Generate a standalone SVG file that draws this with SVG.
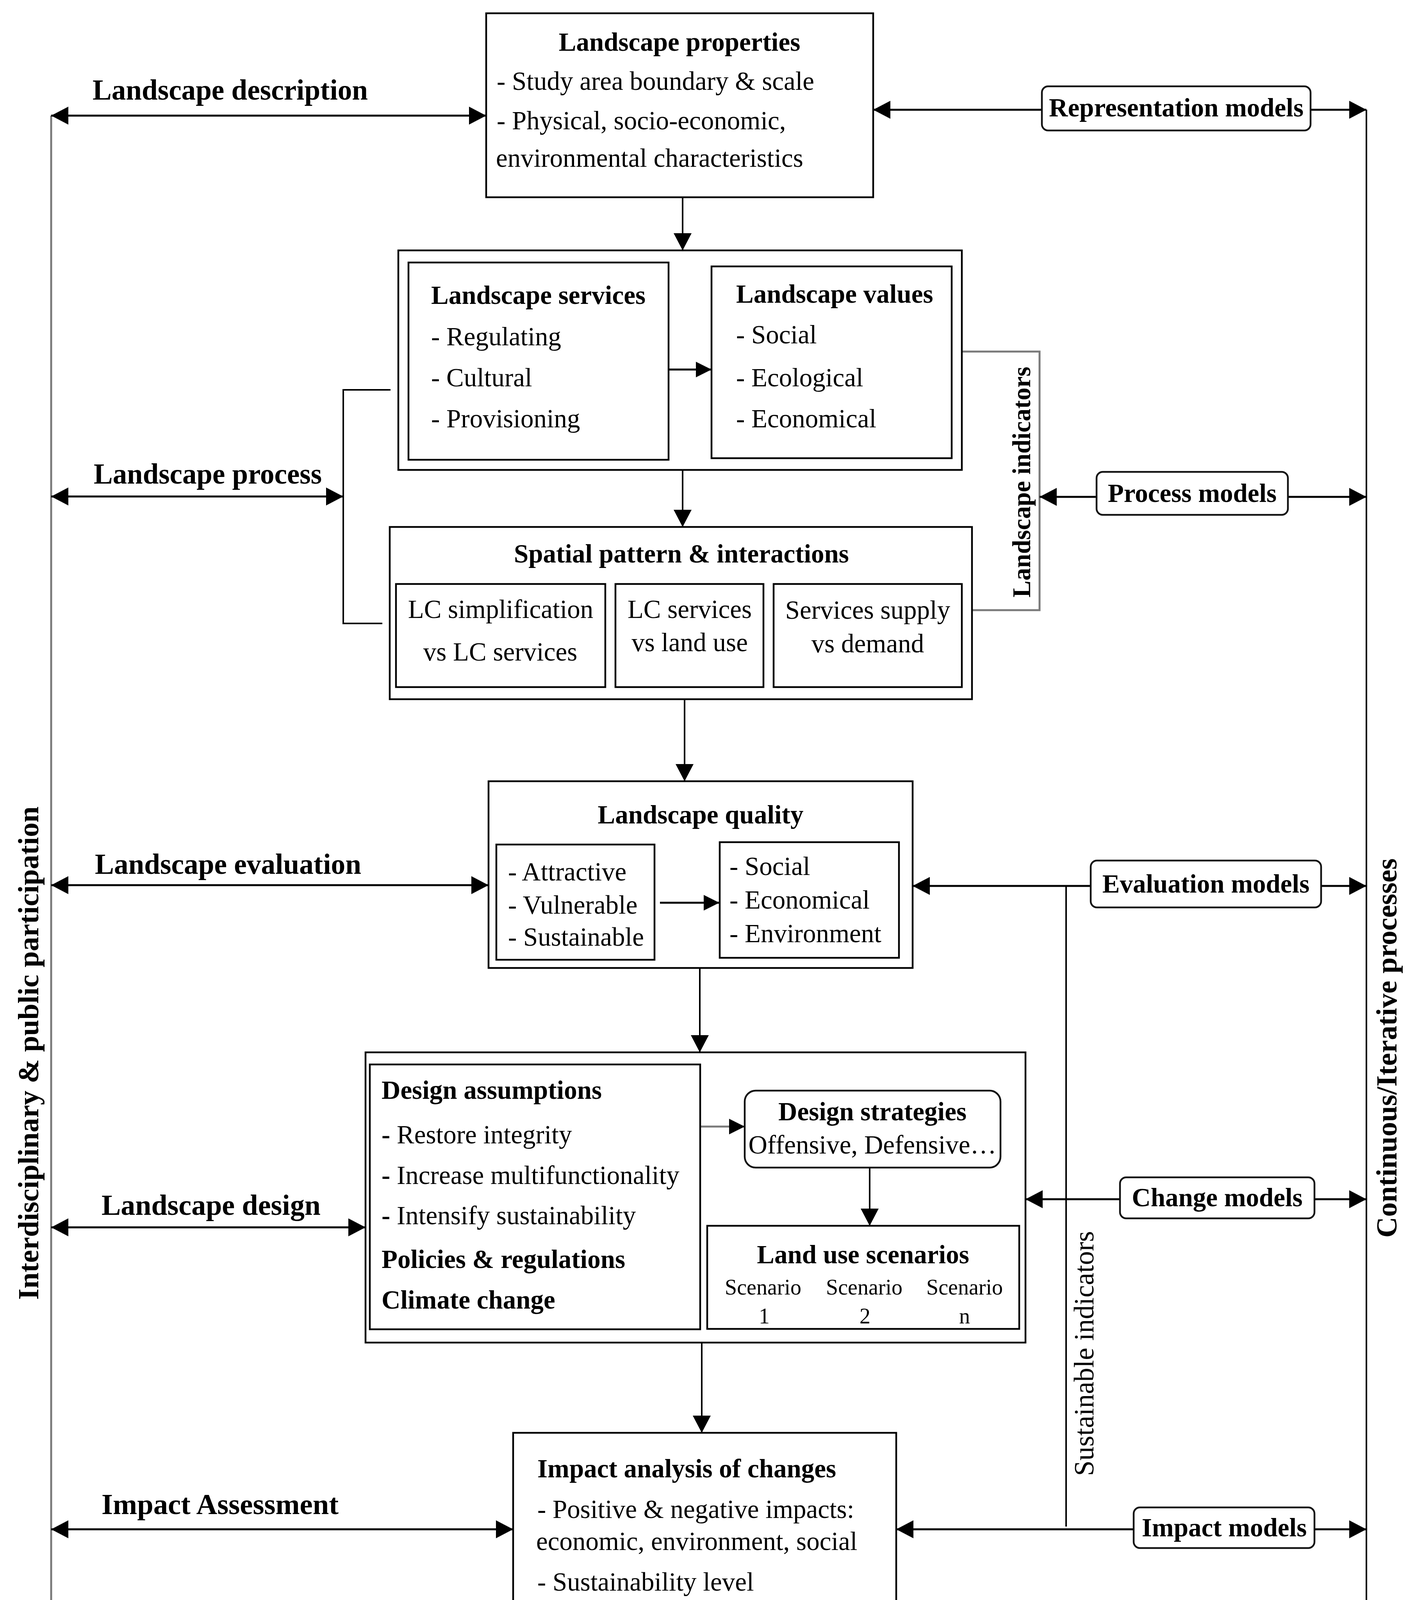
<svg xmlns="http://www.w3.org/2000/svg" width="3626" height="4876" viewBox="0 0 3626 4876">
<style>
.box{fill:none;stroke:#000;stroke-width:4.5}
.rb{fill:#fff;stroke:#111;stroke-width:4.5}
.t{font-family:"Liberation Serif","Times New Roman",serif;font-size:67px;fill:#000}
.b{font-weight:bold}
.m{text-anchor:middle}
.lbl{font-family:"Liberation Serif","Times New Roman",serif;font-weight:bold;font-size:73px;fill:#000}
.ln{fill:none;stroke:#000;stroke-width:5}
.lv{fill:none;stroke:#000;stroke-width:4}
.gl{fill:none;stroke:#7a7a7a;stroke-width:5}
.sm{font-size:56px}
</style>
<defs>
<marker id="ah" viewBox="0 0 44 46" refX="44" refY="23" markerWidth="44" markerHeight="46" markerUnits="userSpaceOnUse" orient="auto-start-reverse"><path d="M0,0 L44,23 L0,46 Z" fill="#000"/></marker>
<marker id="as" viewBox="0 0 40 40" refX="40" refY="20" markerWidth="40" markerHeight="40" markerUnits="userSpaceOnUse" orient="auto-start-reverse"><path d="M0,0 L40,20 L0,40 Z" fill="#000"/></marker>
</defs>
<rect width="3626" height="4876" fill="#fff"/>

<g id="connectors">
<path class="gl" d="M131,296 V4630"/>
<path class="lv" d="M3499,281 V4626"/>
<path class="ln" d="M131,296 H1245" marker-start="url(#ah)" marker-end="url(#ah)"/>
<path class="ln" d="M131,1271 H879" marker-start="url(#ah)" marker-end="url(#ah)"/>
<path class="lv" d="M1000,998 H879 V1596 H979"/>
<path class="ln" d="M131,2266 H1251" marker-start="url(#ah)" marker-end="url(#ah)"/>
<path class="ln" d="M131,3142 H936" marker-start="url(#ah)" marker-end="url(#ah)"/>
<path class="ln" d="M131,3915 H1314" marker-start="url(#ah)" marker-end="url(#ah)"/>
<path class="ln" d="M131,4630 H1482" marker-start="url(#ah)" marker-end="url(#ah)"/>
<path class="ln" d="M2668,281 H2236" marker-end="url(#ah)"/>
<path class="ln" d="M3356,281 H3499" marker-end="url(#ah)"/>
<path class="gl" d="M2462,900 H2662 V1562 H2489"/>
<path class="ln" d="M2808,1272 H2662" marker-end="url(#ah)"/>
<path class="ln" d="M3298,1272 H3499" marker-end="url(#ah)"/>
<path class="ln" d="M2793,2268 H2337" marker-end="url(#ah)"/>
<path class="ln" d="M3383,2268 H3499" marker-end="url(#ah)"/>
<path class="lv" d="M2730,2268 V3908"/>
<path class="ln" d="M2868,3070 H2626" marker-end="url(#ah)"/>
<path class="ln" d="M3366,3070 H3499" marker-end="url(#ah)"/>
<path class="ln" d="M2903,3915 H2295" marker-end="url(#ah)"/>
<path class="ln" d="M3366,3915 H3499" marker-end="url(#ah)"/>
<path class="ln" d="M2840,4626 H2157" marker-end="url(#ah)"/>
<path class="ln" d="M3359,4626 H3499" marker-end="url(#ah)"/>
<path class="lv" d="M1748,505 V641" marker-end="url(#ah)"/>
<path class="lv" d="M1748,1203 V1349" marker-end="url(#ah)"/>
<path class="lv" d="M1753,1790 V2000" marker-end="url(#ah)"/>
<path class="lv" d="M1792,2479 V2694" marker-end="url(#ah)"/>
<path class="lv" d="M1797,3437 V3668" marker-end="url(#ah)"/>
<path class="lv" d="M1802,4161 V4387" marker-end="url(#ah)"/>
<path class="lv" d="M2227,2989 V3138" marker-end="url(#ah)"/>
<path class="ln" d="M1712,946 H1822" marker-end="url(#as)"/>
<path class="ln" d="M1690,2311 H1842" marker-end="url(#as)"/>
<path class="gl" d="M1793,2884 H1907" marker-end="url(#as)"/>
</g>

<g id="side-labels">
<text class="lbl" x="237" y="255" textLength="705" lengthAdjust="spacingAndGlyphs">Landscape description</text>
<text class="lbl" x="240" y="1238" textLength="584" lengthAdjust="spacingAndGlyphs">Landscape process</text>
<text class="lbl" x="243" y="2237" textLength="682" lengthAdjust="spacingAndGlyphs">Landscape evaluation</text>
<text class="lbl" x="260" y="3110" textLength="561" lengthAdjust="spacingAndGlyphs">Landscape design</text>
<text class="lbl" x="260" y="3876" textLength="607" lengthAdjust="spacingAndGlyphs">Impact Assessment</text>
<text class="lbl" x="272" y="4600" textLength="549" lengthAdjust="spacingAndGlyphs">Decision Making</text>
<text class="lbl m" transform="translate(98,2696) rotate(-90)" font-size="74" textLength="1263" lengthAdjust="spacingAndGlyphs">Interdisciplinary &amp; public participation</text>
<text class="lbl m" transform="translate(3576,2683) rotate(-90)" font-size="74" textLength="971" lengthAdjust="spacingAndGlyphs">Continuous/Iterative processes</text>
<text class="lbl m" transform="translate(2638,1234) rotate(-90)" style="font-size:65px" textLength="591" lengthAdjust="spacingAndGlyphs">Landscape indicators</text>
<text class="t m" transform="translate(2800,3465) rotate(-90)" style="font-size:71px" textLength="627" lengthAdjust="spacingAndGlyphs">Sustainable indicators</text>
</g>

<g id="landscape-properties">
<rect class="box" x="1245" y="34" width="991" height="471"/>
<text class="t b m" x="1740" y="130">Landscape properties</text>
<text class="t" x="1272" y="230">- Study area boundary &amp; scale</text>
<text class="t" x="1272" y="331">- Physical, socio-economic,</text>
<text class="t" x="1270" y="427">environmental characteristics</text>
</g>

<g id="services-values">
<rect class="box" x="1020" y="641" width="1443" height="562"/>
</g>
<g id="landscape-services">
<rect class="box" x="1046" y="672" width="666" height="505"/>
<text class="t b" x="1104" y="778">Landscape services</text>
<text class="t" x="1104" y="884">- Regulating</text>
<text class="t" x="1104" y="989">- Cultural</text>
<text class="t" x="1104" y="1094">- Provisioning</text>
</g>
<g id="landscape-values">
<rect class="box" x="1822" y="682" width="615" height="491"/>
<text class="t b" x="1885" y="775">Landscape values</text>
<text class="t" x="1885" y="879">- Social</text>
<text class="t" x="1885" y="989">- Ecological</text>
<text class="t" x="1885" y="1094">- Economical</text>
</g>

<g id="spatial-pattern">
<rect class="box" x="998" y="1349" width="1491" height="441"/>
<text class="t b m" x="1745" y="1440">Spatial pattern &amp; interactions</text>
<rect class="box" x="1014" y="1495" width="536" height="264"/>
<text class="t m" x="1282" y="1582">LC simplification</text>
<text class="t m" x="1281" y="1691">vs LC services</text>
<rect class="box" x="1576" y="1495" width="379" height="264"/>
<text class="t m" x="1766" y="1582">LC services</text>
<text class="t m" x="1766" y="1667">vs land use</text>
<rect class="box" x="1981" y="1495" width="482" height="264"/>
<text class="t m" x="2222" y="1584">Services supply</text>
<text class="t m" x="2222" y="1670">vs demand</text>
</g>

<g id="landscape-quality">
<rect class="box" x="1251" y="2000" width="1086" height="478"/>
<text class="t b m" x="1794" y="2108">Landscape quality</text>
<rect class="box" x="1271" y="2162" width="405" height="295"/>
<text class="t" x="1301" y="2254">- Attractive</text>
<text class="t" x="1301" y="2339">- Vulnerable</text>
<text class="t" x="1301" y="2421">- Sustainable</text>
<rect class="box" x="1843" y="2156" width="459" height="296"/>
<text class="t" x="1868" y="2240">- Social</text>
<text class="t" x="1868" y="2326">- Economical</text>
<text class="t" x="1868" y="2412">- Environment</text>
</g>

<g id="landscape-design">
<rect class="box" x="936" y="2694" width="1690" height="743"/>
</g>
<g id="design-assumptions">
<rect class="box" x="947" y="2725" width="846" height="678"/>
<text class="t b" x="977" y="2813">Design assumptions</text>
<text class="t" x="977" y="2927"><tspan class="b">-</tspan> Restore integrity</text>
<text class="t" x="977" y="3031"><tspan class="b">-</tspan> Increase multifunctionality</text>
<text class="t" x="977" y="3134"><tspan class="b">-</tspan> Intensify sustainability</text>
<text class="t b" x="977" y="3246">Policies &amp; regulations</text>
<text class="t b" x="977" y="3350">Climate change</text>
</g>
<g id="design-strategies">
<rect class="rb" x="1907" y="2792" width="655" height="197" rx="28"/>
<text class="t b m" x="2234" y="2868">Design strategies</text>
<text class="t m" x="2234" y="2953">Offensive, Defensive…</text>
</g>
<g id="land-use-scenarios">
<rect class="box" x="1811" y="3138" width="799" height="264"/>
<text class="t b m" x="2210" y="3234">Land use scenarios</text>
<text class="t sm m" x="1954" y="3314">Scenario</text>
<text class="t sm m" x="2213" y="3314">Scenario</text>
<text class="t sm m" x="2470" y="3314">Scenario</text>
<text class="t sm m" x="1957" y="3388">1</text>
<text class="t sm m" x="2215" y="3388">2</text>
<text class="t sm m" x="2470" y="3388">n</text>
</g>

<g id="impact-analysis">
<rect class="box" x="1314" y="3668" width="981" height="493"/>
<text class="t b" x="1376" y="3782">Impact analysis of changes</text>
<text class="t" x="1376" y="3886">- Positive &amp; negative impacts:</text>
<text class="t" x="1373" y="3968">economic, environment, social</text>
<text class="t" x="1376" y="4072">- Sustainability level</text>
</g>

<g id="decision-making">
<rect class="box" x="1482" y="4387" width="675" height="457"/>
<text class="t b" x="1543" y="4478">Decision making</text>
<text class="t" x="1543" y="4588">- Review impacts</text>
<text class="t" x="1543" y="4694">- Make decision</text>
<text class="t" x="1543" y="4799">- Implementation</text>
</g>

<g id="representation-models">
<rect class="rb" x="2668" y="221" width="688" height="113" rx="16"/>
<text class="t b m" x="3012" y="298">Representation models</text>
</g>
<g id="process-models">
<rect class="rb" x="2808" y="1208" width="490" height="110" rx="16"/>
<text class="t b m" x="3053" y="1285">Process models</text>
</g>
<g id="evaluation-models">
<rect class="rb" x="2793" y="2203" width="590" height="120" rx="16"/>
<text class="t b m" x="3088" y="2285">Evaluation models</text>
</g>
<g id="change-models">
<rect class="rb" x="2868" y="3014" width="498" height="105" rx="16"/>
<text class="t b m" x="3117" y="3088">Change models</text>
</g>
<g id="impact-models">
<rect class="rb" x="2903" y="3859" width="463" height="104" rx="16"/>
<text class="t b m" x="3135" y="3933">Impact models</text>
</g>
<g id="decision-models">
<rect class="rb" x="2840" y="4567" width="519" height="110" rx="16"/>
<text class="t b m" x="3100" y="4644">Decision models</text>
</g>
</svg>
